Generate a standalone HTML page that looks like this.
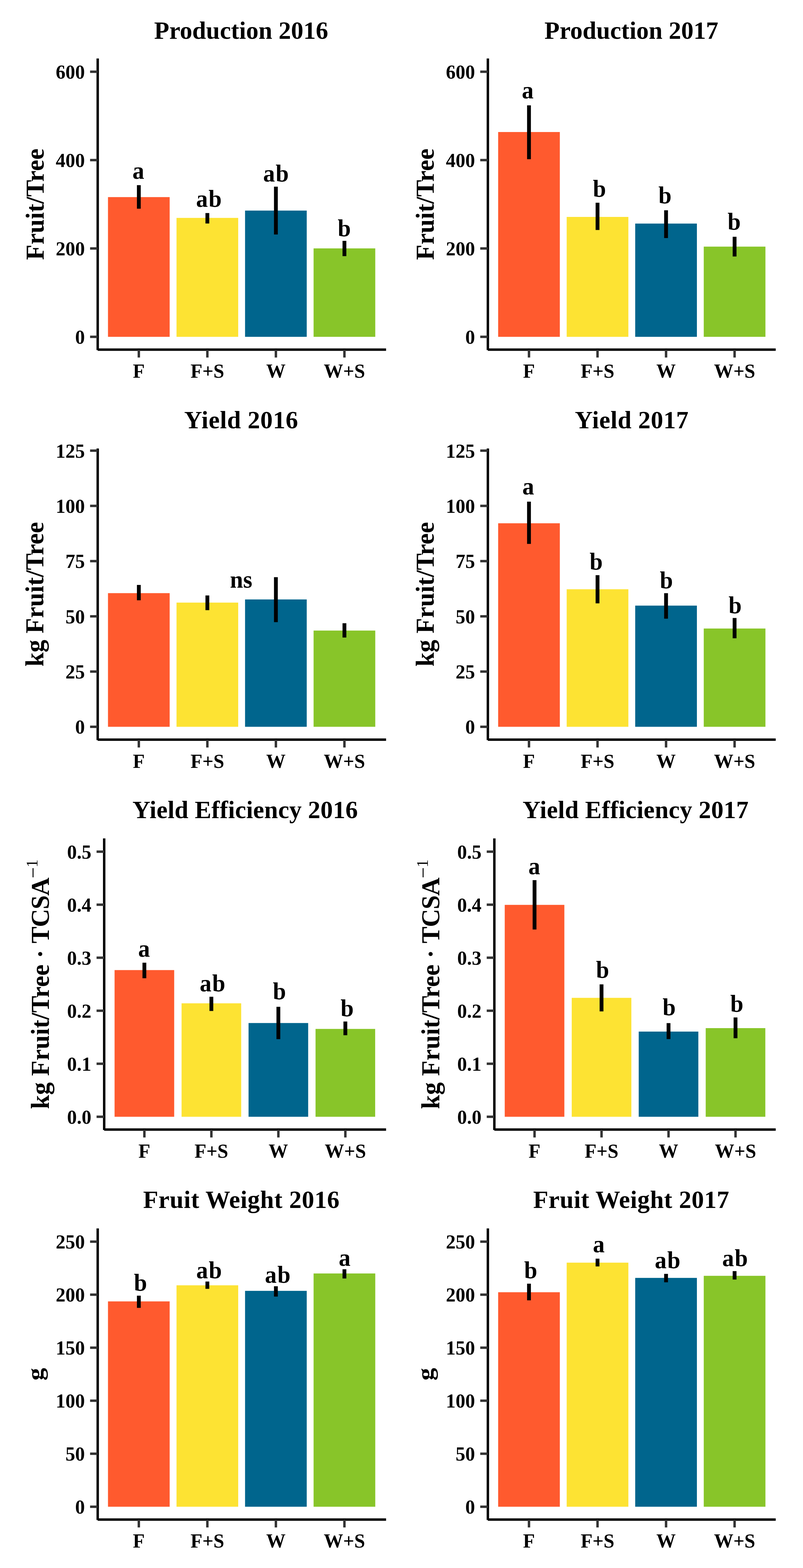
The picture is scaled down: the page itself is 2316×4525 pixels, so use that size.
<!DOCTYPE html>
<html><head><meta charset="utf-8"><title>Production, yield, yield efficiency and fruit weight 2016-2017</title><style>
html,body{margin:0;padding:0;background:#fff;}
svg{display:block;}
text{font-family:'Liberation Serif','Times New Roman',serif;font-weight:bold;fill:#000;}
.ti{font-size:71.5px;text-anchor:middle;}
.yt{font-size:56px;text-anchor:end;}
.xt{font-size:56px;text-anchor:middle;}
.yl{font-size:73px;text-anchor:middle;}
.lab{font-size:68px;text-anchor:middle;}
.sup{font-size:47px;font-weight:normal;}
</style></head><body>
<svg width="2316" height="4525" viewBox="0 0 2316 4525">
<rect width="2316" height="4525" fill="#fff"/>
<rect x="311.45" y="568.8" width="177.9" height="403.2" fill="#FF5A2E"/>
<rect x="509.12" y="628.8" width="177.9" height="343.2" fill="#FDE333"/>
<rect x="706.78" y="607.7" width="177.9" height="364.3" fill="#00658D"/>
<rect x="904.45" y="716.8" width="177.9" height="255.2" fill="#88C529"/>
<rect x="394.9" y="534.3" width="11" height="68" fill="#000"/>
<rect x="592.57" y="614.8" width="11" height="30.2" fill="#000"/>
<rect x="790.23" y="538.7" width="11" height="138" fill="#000"/>
<rect x="987.9" y="695" width="11" height="44.2" fill="#000"/>
<text transform="translate(399,516.3) scale(1,1.03)" class="lab">a</text>
<text transform="translate(603.5,596.6) scale(1,1.03)" class="lab" letter-spacing="2">ab</text>
<text transform="translate(797,523.7) scale(1,1.03)" class="lab" letter-spacing="2">ab</text>
<text transform="translate(992.9,682.2) scale(1,1.03)" class="lab">b</text>
<line x1="281.8" y1="168.75" x2="281.8" y2="1010.25" stroke="#000" stroke-width="7"/>
<line x1="281.8" y1="1009.05" x2="1113.5" y2="1009.05" stroke="#000" stroke-width="7"/>
<line x1="259.8" y1="972" x2="281.8" y2="972" stroke="#333" stroke-width="7"/>
<text x="244.8" y="992" class="yt">0</text>
<line x1="259.8" y1="717" x2="281.8" y2="717" stroke="#333" stroke-width="7"/>
<text x="244.8" y="737" class="yt">200</text>
<line x1="259.8" y1="462" x2="281.8" y2="462" stroke="#333" stroke-width="7"/>
<text x="244.8" y="482" class="yt">400</text>
<line x1="259.8" y1="207" x2="281.8" y2="207" stroke="#333" stroke-width="7"/>
<text x="244.8" y="227" class="yt">600</text>
<line x1="400.4" y1="1009.05" x2="400.4" y2="1031.75" stroke="#333" stroke-width="7"/>
<text x="400.4" y="1090.25" class="xt">F</text>
<line x1="598.07" y1="1009.05" x2="598.07" y2="1031.75" stroke="#333" stroke-width="7"/>
<text x="598.07" y="1090.25" class="xt">F+S</text>
<line x1="795.73" y1="1009.05" x2="795.73" y2="1031.75" stroke="#333" stroke-width="7"/>
<text x="795.73" y="1090.25" class="xt">W</text>
<line x1="993.4" y1="1009.05" x2="993.4" y2="1031.75" stroke="#333" stroke-width="7"/>
<text x="993.4" y="1090.25" class="xt">W+S</text>
<text x="695.5" y="112" class="ti" textLength="502.2" lengthAdjust="spacing">Production 2016</text>
<text transform="translate(125.6,589.5) rotate(-90)" class="yl">Fruit/Tree</text>
<rect x="1436.75" y="381" width="177.9" height="591" fill="#FF5A2E"/>
<rect x="1634.42" y="626" width="177.9" height="346" fill="#FDE333"/>
<rect x="1832.08" y="645.2" width="177.9" height="326.8" fill="#00658D"/>
<rect x="2029.75" y="711.7" width="177.9" height="260.3" fill="#88C529"/>
<rect x="1520.2" y="304" width="11" height="155.4" fill="#000"/>
<rect x="1717.87" y="585" width="11" height="78.7" fill="#000"/>
<rect x="1915.53" y="606.8" width="11" height="80.2" fill="#000"/>
<rect x="2113.2" y="683.3" width="11" height="56.9" fill="#000"/>
<text transform="translate(1522,283.7) scale(1,1.03)" class="lab">a</text>
<text transform="translate(1729,568) scale(1,1.03)" class="lab">b</text>
<text transform="translate(1917.9,587.1) scale(1,1.03)" class="lab">b</text>
<text transform="translate(2117.3,663.3) scale(1,1.03)" class="lab">b</text>
<line x1="1407.1" y1="168.75" x2="1407.1" y2="1010.25" stroke="#000" stroke-width="7"/>
<line x1="1407.1" y1="1009.05" x2="2237.3" y2="1009.05" stroke="#000" stroke-width="7"/>
<line x1="1385.1" y1="972" x2="1407.1" y2="972" stroke="#333" stroke-width="7"/>
<text x="1370.1" y="992" class="yt">0</text>
<line x1="1385.1" y1="717" x2="1407.1" y2="717" stroke="#333" stroke-width="7"/>
<text x="1370.1" y="737" class="yt">200</text>
<line x1="1385.1" y1="462" x2="1407.1" y2="462" stroke="#333" stroke-width="7"/>
<text x="1370.1" y="482" class="yt">400</text>
<line x1="1385.1" y1="207" x2="1407.1" y2="207" stroke="#333" stroke-width="7"/>
<text x="1370.1" y="227" class="yt">600</text>
<line x1="1525.7" y1="1009.05" x2="1525.7" y2="1031.75" stroke="#333" stroke-width="7"/>
<text x="1525.7" y="1090.25" class="xt">F</text>
<line x1="1723.37" y1="1009.05" x2="1723.37" y2="1031.75" stroke="#333" stroke-width="7"/>
<text x="1723.37" y="1090.25" class="xt">F+S</text>
<line x1="1921.03" y1="1009.05" x2="1921.03" y2="1031.75" stroke="#333" stroke-width="7"/>
<text x="1921.03" y="1090.25" class="xt">W</text>
<line x1="2118.7" y1="1009.05" x2="2118.7" y2="1031.75" stroke="#333" stroke-width="7"/>
<text x="2118.7" y="1090.25" class="xt">W+S</text>
<text x="1821.05" y="112" class="ti" textLength="501.5" lengthAdjust="spacing">Production 2017</text>
<text transform="translate(1250.9,589.5) rotate(-90)" class="yl">Fruit/Tree</text>
<rect x="311.45" y="1711.7" width="177.9" height="385.7" fill="#FF5A2E"/>
<rect x="509.12" y="1739" width="177.9" height="358.4" fill="#FDE333"/>
<rect x="706.78" y="1729.9" width="177.9" height="367.5" fill="#00658D"/>
<rect x="904.45" y="1819.7" width="177.9" height="277.7" fill="#88C529"/>
<rect x="394.9" y="1688" width="11" height="44.3" fill="#000"/>
<rect x="592.57" y="1718.4" width="11" height="42.4" fill="#000"/>
<rect x="790.23" y="1665.6" width="11" height="129.8" fill="#000"/>
<rect x="987.9" y="1798.5" width="11" height="41.3" fill="#000"/>
<text transform="translate(695.5,1696) scale(1,1.03)" class="lab">ns</text>
<line x1="281.8" y1="1294.15" x2="281.8" y2="2135.65" stroke="#000" stroke-width="7"/>
<line x1="281.8" y1="2134.45" x2="1113.5" y2="2134.45" stroke="#000" stroke-width="7"/>
<line x1="259.8" y1="2097.4" x2="281.8" y2="2097.4" stroke="#333" stroke-width="7"/>
<text x="244.8" y="2117.4" class="yt">0</text>
<line x1="259.8" y1="1938.03" x2="281.8" y2="1938.03" stroke="#333" stroke-width="7"/>
<text x="244.8" y="1958.03" class="yt">25</text>
<line x1="259.8" y1="1778.65" x2="281.8" y2="1778.65" stroke="#333" stroke-width="7"/>
<text x="244.8" y="1798.65" class="yt">50</text>
<line x1="259.8" y1="1619.28" x2="281.8" y2="1619.28" stroke="#333" stroke-width="7"/>
<text x="244.8" y="1639.28" class="yt">75</text>
<line x1="259.8" y1="1459.9" x2="281.8" y2="1459.9" stroke="#333" stroke-width="7"/>
<text x="244.8" y="1479.9" class="yt">100</text>
<line x1="259.8" y1="1300.53" x2="281.8" y2="1300.53" stroke="#333" stroke-width="7"/>
<text x="244.8" y="1320.53" class="yt">125</text>
<line x1="400.4" y1="2134.45" x2="400.4" y2="2157.15" stroke="#333" stroke-width="7"/>
<text x="400.4" y="2215.65" class="xt">F</text>
<line x1="598.07" y1="2134.45" x2="598.07" y2="2157.15" stroke="#333" stroke-width="7"/>
<text x="598.07" y="2215.65" class="xt">F+S</text>
<line x1="795.73" y1="2134.45" x2="795.73" y2="2157.15" stroke="#333" stroke-width="7"/>
<text x="795.73" y="2215.65" class="xt">W</text>
<line x1="993.4" y1="2134.45" x2="993.4" y2="2157.15" stroke="#333" stroke-width="7"/>
<text x="993.4" y="2215.65" class="xt">W+S</text>
<text x="695.45" y="1236.2" class="ti" textLength="328.2" lengthAdjust="spacing">Yield 2016</text>
<text transform="translate(125.4,1714.9) rotate(-90)" class="yl">kg Fruit/Tree</text>
<rect x="1436.75" y="1510.1" width="177.9" height="587.3" fill="#FF5A2E"/>
<rect x="1634.42" y="1700.5" width="177.9" height="396.9" fill="#FDE333"/>
<rect x="1832.08" y="1747.7" width="177.9" height="349.7" fill="#00658D"/>
<rect x="2029.75" y="1813.8" width="177.9" height="283.6" fill="#88C529"/>
<rect x="1520.2" y="1447.7" width="11" height="121.9" fill="#000"/>
<rect x="1717.87" y="1659.8" width="11" height="81.4" fill="#000"/>
<rect x="1915.53" y="1711.8" width="11" height="73.6" fill="#000"/>
<rect x="2113.2" y="1783.4" width="11" height="58.6" fill="#000"/>
<text transform="translate(1523.5,1427.4) scale(1,1.03)" class="lab">a</text>
<text transform="translate(1719.5,1644.4) scale(1,1.03)" class="lab">b</text>
<text transform="translate(1922,1697.6) scale(1,1.03)" class="lab">b</text>
<text transform="translate(2120.2,1770.4) scale(1,1.03)" class="lab">b</text>
<line x1="1407.1" y1="1294.15" x2="1407.1" y2="2135.65" stroke="#000" stroke-width="7"/>
<line x1="1407.1" y1="2134.45" x2="2237.3" y2="2134.45" stroke="#000" stroke-width="7"/>
<line x1="1385.1" y1="2097.4" x2="1407.1" y2="2097.4" stroke="#333" stroke-width="7"/>
<text x="1370.1" y="2117.4" class="yt">0</text>
<line x1="1385.1" y1="1938.03" x2="1407.1" y2="1938.03" stroke="#333" stroke-width="7"/>
<text x="1370.1" y="1958.03" class="yt">25</text>
<line x1="1385.1" y1="1778.65" x2="1407.1" y2="1778.65" stroke="#333" stroke-width="7"/>
<text x="1370.1" y="1798.65" class="yt">50</text>
<line x1="1385.1" y1="1619.28" x2="1407.1" y2="1619.28" stroke="#333" stroke-width="7"/>
<text x="1370.1" y="1639.28" class="yt">75</text>
<line x1="1385.1" y1="1459.9" x2="1407.1" y2="1459.9" stroke="#333" stroke-width="7"/>
<text x="1370.1" y="1479.9" class="yt">100</text>
<line x1="1385.1" y1="1300.53" x2="1407.1" y2="1300.53" stroke="#333" stroke-width="7"/>
<text x="1370.1" y="1320.53" class="yt">125</text>
<line x1="1525.7" y1="2134.45" x2="1525.7" y2="2157.15" stroke="#333" stroke-width="7"/>
<text x="1525.7" y="2215.65" class="xt">F</text>
<line x1="1723.37" y1="2134.45" x2="1723.37" y2="2157.15" stroke="#333" stroke-width="7"/>
<text x="1723.37" y="2215.65" class="xt">F+S</text>
<line x1="1921.03" y1="2134.45" x2="1921.03" y2="2157.15" stroke="#333" stroke-width="7"/>
<text x="1921.03" y="2215.65" class="xt">W</text>
<line x1="2118.7" y1="2134.45" x2="2118.7" y2="2157.15" stroke="#333" stroke-width="7"/>
<text x="2118.7" y="2215.65" class="xt">W+S</text>
<text x="1821.85" y="1236.2" class="ti" textLength="327.8" lengthAdjust="spacing">Yield 2017</text>
<text transform="translate(1250.7,1714.9) rotate(-90)" class="yl">kg Fruit/Tree</text>
<rect x="330.45" y="2799.5" width="171.96" height="423.3" fill="#FF5A2E"/>
<rect x="523.66" y="2895.4" width="171.96" height="327.4" fill="#FDE333"/>
<rect x="716.88" y="2952.3" width="171.96" height="270.5" fill="#00658D"/>
<rect x="910.09" y="2969.3" width="171.96" height="253.5" fill="#88C529"/>
<rect x="410.93" y="2778.2" width="11" height="44.9" fill="#000"/>
<rect x="604.14" y="2876.5" width="11" height="41" fill="#000"/>
<rect x="797.36" y="2905.5" width="11" height="93.3" fill="#000"/>
<rect x="990.57" y="2947.9" width="11" height="39.6" fill="#000"/>
<text transform="translate(415.4,2761.1) scale(1,1.03)" class="lab">a</text>
<text transform="translate(613.9,2860.6) scale(1,1.03)" class="lab" letter-spacing="2">ab</text>
<text transform="translate(805.9,2883.8) scale(1,1.03)" class="lab">b</text>
<text transform="translate(1001.2,2932.6) scale(1,1.03)" class="lab">b</text>
<line x1="300.5" y1="2419.55" x2="300.5" y2="3261.05" stroke="#000" stroke-width="7"/>
<line x1="300.5" y1="3259.85" x2="1113.5" y2="3259.85" stroke="#000" stroke-width="7"/>
<line x1="278.5" y1="3222.8" x2="300.5" y2="3222.8" stroke="#333" stroke-width="7"/>
<text x="263.5" y="3242.8" class="yt">0.0</text>
<line x1="278.5" y1="3069.8" x2="300.5" y2="3069.8" stroke="#333" stroke-width="7"/>
<text x="263.5" y="3089.8" class="yt">0.1</text>
<line x1="278.5" y1="2916.8" x2="300.5" y2="2916.8" stroke="#333" stroke-width="7"/>
<text x="263.5" y="2936.8" class="yt">0.2</text>
<line x1="278.5" y1="2763.8" x2="300.5" y2="2763.8" stroke="#333" stroke-width="7"/>
<text x="263.5" y="2783.8" class="yt">0.3</text>
<line x1="278.5" y1="2610.8" x2="300.5" y2="2610.8" stroke="#333" stroke-width="7"/>
<text x="263.5" y="2630.8" class="yt">0.4</text>
<line x1="278.5" y1="2457.8" x2="300.5" y2="2457.8" stroke="#333" stroke-width="7"/>
<text x="263.5" y="2477.8" class="yt">0.5</text>
<line x1="416.43" y1="3259.85" x2="416.43" y2="3282.55" stroke="#333" stroke-width="7"/>
<text x="416.43" y="3341.05" class="xt">F</text>
<line x1="609.64" y1="3259.85" x2="609.64" y2="3282.55" stroke="#333" stroke-width="7"/>
<text x="609.64" y="3341.05" class="xt">F+S</text>
<line x1="802.86" y1="3259.85" x2="802.86" y2="3282.55" stroke="#333" stroke-width="7"/>
<text x="802.86" y="3341.05" class="xt">W</text>
<line x1="996.07" y1="3259.85" x2="996.07" y2="3282.55" stroke="#333" stroke-width="7"/>
<text x="996.07" y="3341.05" class="xt">W+S</text>
<text x="707.05" y="2360.6" class="ti" textLength="650" lengthAdjust="spacing">Yield Efficiency 2016</text>
<text transform="translate(141.2,2840.3) rotate(-90)" class="yl">kg Fruit/Tree · <tspan letter-spacing="-1.5">TCSA</tspan><tspan dx="-1" dy="-27.6" style="font-size:57px;font-weight:normal">−</tspan><tspan dx="-0.5" dy="-5.4" style="font-size:46px;font-weight:normal">1</tspan></text>
<rect x="1455.75" y="2611.3" width="171.96" height="611.5" fill="#FF5A2E"/>
<rect x="1648.96" y="2879.6" width="171.96" height="343.2" fill="#FDE333"/>
<rect x="1842.18" y="2977" width="171.96" height="245.8" fill="#00658D"/>
<rect x="2035.39" y="2967" width="171.96" height="255.8" fill="#88C529"/>
<rect x="1536.23" y="2539.9" width="11" height="142.5" fill="#000"/>
<rect x="1729.44" y="2840.7" width="11" height="78" fill="#000"/>
<rect x="1922.66" y="2952.5" width="11" height="46.1" fill="#000"/>
<rect x="2115.87" y="2936.2" width="11" height="60" fill="#000"/>
<text transform="translate(1540.9,2522.7) scale(1,1.03)" class="lab">a</text>
<text transform="translate(1737.9,2822) scale(1,1.03)" class="lab">b</text>
<text transform="translate(1929.8,2930.4) scale(1,1.03)" class="lab">b</text>
<text transform="translate(2125.2,2920.1) scale(1,1.03)" class="lab">b</text>
<line x1="1425.8" y1="2419.55" x2="1425.8" y2="3261.05" stroke="#000" stroke-width="7"/>
<line x1="1425.8" y1="3259.85" x2="2237.3" y2="3259.85" stroke="#000" stroke-width="7"/>
<line x1="1403.8" y1="3222.8" x2="1425.8" y2="3222.8" stroke="#333" stroke-width="7"/>
<text x="1388.8" y="3242.8" class="yt">0.0</text>
<line x1="1403.8" y1="3069.8" x2="1425.8" y2="3069.8" stroke="#333" stroke-width="7"/>
<text x="1388.8" y="3089.8" class="yt">0.1</text>
<line x1="1403.8" y1="2916.8" x2="1425.8" y2="2916.8" stroke="#333" stroke-width="7"/>
<text x="1388.8" y="2936.8" class="yt">0.2</text>
<line x1="1403.8" y1="2763.8" x2="1425.8" y2="2763.8" stroke="#333" stroke-width="7"/>
<text x="1388.8" y="2783.8" class="yt">0.3</text>
<line x1="1403.8" y1="2610.8" x2="1425.8" y2="2610.8" stroke="#333" stroke-width="7"/>
<text x="1388.8" y="2630.8" class="yt">0.4</text>
<line x1="1403.8" y1="2457.8" x2="1425.8" y2="2457.8" stroke="#333" stroke-width="7"/>
<text x="1388.8" y="2477.8" class="yt">0.5</text>
<line x1="1541.73" y1="3259.85" x2="1541.73" y2="3282.55" stroke="#333" stroke-width="7"/>
<text x="1541.73" y="3341.05" class="xt">F</text>
<line x1="1734.94" y1="3259.85" x2="1734.94" y2="3282.55" stroke="#333" stroke-width="7"/>
<text x="1734.94" y="3341.05" class="xt">F+S</text>
<line x1="1928.16" y1="3259.85" x2="1928.16" y2="3282.55" stroke="#333" stroke-width="7"/>
<text x="1928.16" y="3341.05" class="xt">W</text>
<line x1="2121.37" y1="3259.85" x2="2121.37" y2="3282.55" stroke="#333" stroke-width="7"/>
<text x="2121.37" y="3341.05" class="xt">W+S</text>
<text x="1833.15" y="2360.6" class="ti" textLength="651.6" lengthAdjust="spacing">Yield Efficiency 2017</text>
<text transform="translate(1266.5,2840.3) rotate(-90)" class="yl">kg Fruit/Tree · <tspan letter-spacing="-1.5">TCSA</tspan><tspan dx="-1" dy="-27.6" style="font-size:57px;font-weight:normal">−</tspan><tspan dx="-0.5" dy="-5.4" style="font-size:46px;font-weight:normal">1</tspan></text>
<rect x="311.45" y="3755.6" width="177.9" height="592.6" fill="#FF5A2E"/>
<rect x="509.12" y="3709.2" width="177.9" height="639" fill="#FDE333"/>
<rect x="706.78" y="3725.2" width="177.9" height="623" fill="#00658D"/>
<rect x="904.45" y="3675" width="177.9" height="673.2" fill="#88C529"/>
<rect x="394.9" y="3739.1" width="11" height="35.2" fill="#000"/>
<rect x="592.57" y="3698.3" width="11" height="21.1" fill="#000"/>
<rect x="790.23" y="3711.9" width="11" height="29.8" fill="#000"/>
<rect x="987.9" y="3662.8" width="11" height="26.7" fill="#000"/>
<text transform="translate(405.1,3725) scale(1,1.03)" class="lab">b</text>
<text transform="translate(604,3689.4) scale(1,1.03)" class="lab" letter-spacing="2">ab</text>
<text transform="translate(802,3701.6) scale(1,1.03)" class="lab" letter-spacing="2">ab</text>
<text transform="translate(993.9,3652.8) scale(1,1.03)" class="lab">a</text>
<line x1="281.8" y1="3544.95" x2="281.8" y2="4386.45" stroke="#000" stroke-width="7"/>
<line x1="281.8" y1="4385.25" x2="1113.5" y2="4385.25" stroke="#000" stroke-width="7"/>
<line x1="259.8" y1="4348.2" x2="281.8" y2="4348.2" stroke="#333" stroke-width="7"/>
<text x="244.8" y="4368.2" class="yt">0</text>
<line x1="259.8" y1="4195.2" x2="281.8" y2="4195.2" stroke="#333" stroke-width="7"/>
<text x="244.8" y="4215.2" class="yt">50</text>
<line x1="259.8" y1="4042.2" x2="281.8" y2="4042.2" stroke="#333" stroke-width="7"/>
<text x="244.8" y="4062.2" class="yt">100</text>
<line x1="259.8" y1="3889.2" x2="281.8" y2="3889.2" stroke="#333" stroke-width="7"/>
<text x="244.8" y="3909.2" class="yt">150</text>
<line x1="259.8" y1="3736.2" x2="281.8" y2="3736.2" stroke="#333" stroke-width="7"/>
<text x="244.8" y="3756.2" class="yt">200</text>
<line x1="259.8" y1="3583.2" x2="281.8" y2="3583.2" stroke="#333" stroke-width="7"/>
<text x="244.8" y="3603.2" class="yt">250</text>
<line x1="400.4" y1="4385.25" x2="400.4" y2="4407.95" stroke="#333" stroke-width="7"/>
<text x="400.4" y="4466.45" class="xt">F</text>
<line x1="598.07" y1="4385.25" x2="598.07" y2="4407.95" stroke="#333" stroke-width="7"/>
<text x="598.07" y="4466.45" class="xt">F+S</text>
<line x1="795.73" y1="4385.25" x2="795.73" y2="4407.95" stroke="#333" stroke-width="7"/>
<text x="795.73" y="4466.45" class="xt">W</text>
<line x1="993.4" y1="4385.25" x2="993.4" y2="4407.95" stroke="#333" stroke-width="7"/>
<text x="993.4" y="4466.45" class="xt">W+S</text>
<text x="695.9" y="3486" class="ti" textLength="566.4" lengthAdjust="spacing">Fruit Weight 2016</text>
<text transform="translate(123.9,3965.7) rotate(-90) scale(1,0.89)" class="yl">g</text>
<rect x="1436.75" y="3729.2" width="177.9" height="619" fill="#FF5A2E"/>
<rect x="1634.42" y="3643.8" width="177.9" height="704.4" fill="#FDE333"/>
<rect x="1832.08" y="3687.8" width="177.9" height="660.4" fill="#00658D"/>
<rect x="2029.75" y="3681.8" width="177.9" height="666.4" fill="#88C529"/>
<rect x="1520.2" y="3704.5" width="11" height="48" fill="#000"/>
<rect x="1717.87" y="3632.3" width="11" height="22.4" fill="#000"/>
<rect x="1915.53" y="3676.2" width="11" height="24.3" fill="#000"/>
<rect x="2113.2" y="3668.2" width="11" height="24.3" fill="#000"/>
<text transform="translate(1530.7,3689.1) scale(1,1.03)" class="lab">b</text>
<text transform="translate(1726.9,3613.7) scale(1,1.03)" class="lab">a</text>
<text transform="translate(1926.4,3660.1) scale(1,1.03)" class="lab" letter-spacing="2">ab</text>
<text transform="translate(2120.9,3653.8) scale(1,1.03)" class="lab" letter-spacing="2">ab</text>
<line x1="1407.1" y1="3544.95" x2="1407.1" y2="4386.45" stroke="#000" stroke-width="7"/>
<line x1="1407.1" y1="4385.25" x2="2237.3" y2="4385.25" stroke="#000" stroke-width="7"/>
<line x1="1385.1" y1="4348.2" x2="1407.1" y2="4348.2" stroke="#333" stroke-width="7"/>
<text x="1370.1" y="4368.2" class="yt">0</text>
<line x1="1385.1" y1="4195.2" x2="1407.1" y2="4195.2" stroke="#333" stroke-width="7"/>
<text x="1370.1" y="4215.2" class="yt">50</text>
<line x1="1385.1" y1="4042.2" x2="1407.1" y2="4042.2" stroke="#333" stroke-width="7"/>
<text x="1370.1" y="4062.2" class="yt">100</text>
<line x1="1385.1" y1="3889.2" x2="1407.1" y2="3889.2" stroke="#333" stroke-width="7"/>
<text x="1370.1" y="3909.2" class="yt">150</text>
<line x1="1385.1" y1="3736.2" x2="1407.1" y2="3736.2" stroke="#333" stroke-width="7"/>
<text x="1370.1" y="3756.2" class="yt">200</text>
<line x1="1385.1" y1="3583.2" x2="1407.1" y2="3583.2" stroke="#333" stroke-width="7"/>
<text x="1370.1" y="3603.2" class="yt">250</text>
<line x1="1525.7" y1="4385.25" x2="1525.7" y2="4407.95" stroke="#333" stroke-width="7"/>
<text x="1525.7" y="4466.45" class="xt">F</text>
<line x1="1723.37" y1="4385.25" x2="1723.37" y2="4407.95" stroke="#333" stroke-width="7"/>
<text x="1723.37" y="4466.45" class="xt">F+S</text>
<line x1="1921.03" y1="4385.25" x2="1921.03" y2="4407.95" stroke="#333" stroke-width="7"/>
<text x="1921.03" y="4466.45" class="xt">W</text>
<line x1="2118.7" y1="4385.25" x2="2118.7" y2="4407.95" stroke="#333" stroke-width="7"/>
<text x="2118.7" y="4466.45" class="xt">W+S</text>
<text x="1820.4" y="3486" class="ti" textLength="565.4" lengthAdjust="spacing">Fruit Weight 2017</text>
<text transform="translate(1249.2,3965.7) rotate(-90) scale(1,0.89)" class="yl">g</text>
</svg>
</body></html>
